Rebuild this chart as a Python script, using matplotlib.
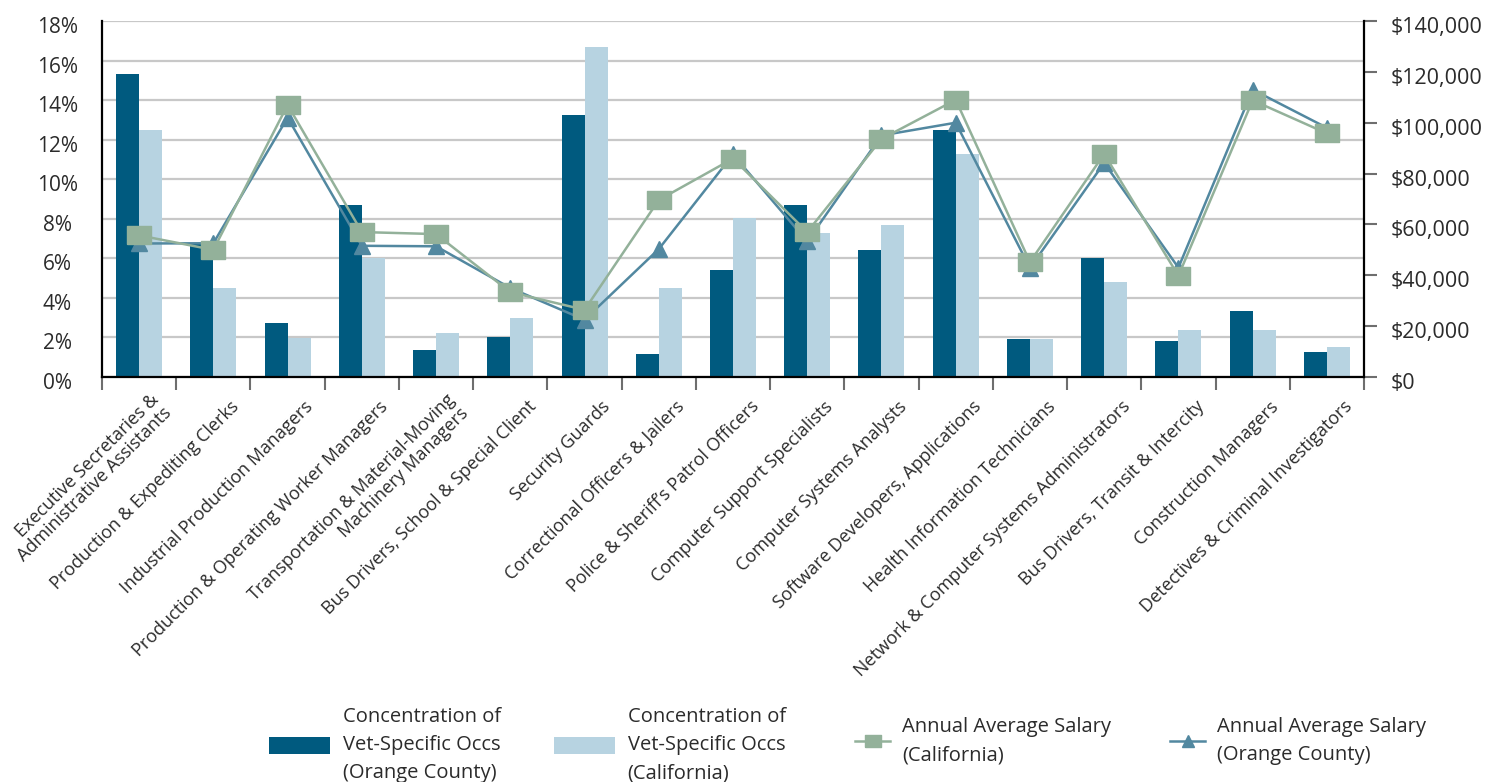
import matplotlib
matplotlib.use("Agg")
import matplotlib.pyplot as plt
import matplotlib.transforms as mtransforms
from matplotlib.patches import Patch
from matplotlib.lines import Line2D
from matplotlib.ticker import FuncFormatter, FixedLocator
import numpy as np

plt.rcParams['font.family'] = ['Open Sans', 'DejaVu Sans']

# occupations
categories = [
	"Executive Secretaries &\nAdministrative Assistants",
	"Production & Expediting Clerks",
	"Industrial Production Managers",
	"Production & Operating Worker Managers",
	"Transportation & Material-Moving\nMachinery Managers",
	"Bus Drivers, School & Special Client",
	"Security Guards",
	"Correctional Officers & Jailers",
	"Police & Sheriff\u2019s Patrol Officers",
	"Computer Support Specialists",
	"Computer Systems Analysts",
	"Software Developers, Applications",
	"Health Information Technicians",
	"Network & Computer Systems Administrators",
	"Bus Drivers, Transit & Intercity",
	"Construction Managers",
	"Detectives & Criminal Investigators",
]

# concentration of vet-specific occs, percent
oc_share = [15.3, 6.8, 2.75, 8.7, 1.35, 2.0, 13.25, 1.15, 5.4, 8.7, 6.4, 12.5, 1.9, 6.0, 1.8, 3.35, 1.25]
ca_share = [12.5, 4.5, 1.95, 6.0, 2.25, 3.0, 16.7, 4.5, 8.05, 7.3, 7.7, 11.3, 1.9, 4.8, 2.4, 2.4, 1.5]

# annual average salary, dollars
ca_salary = [55700, 50000, 107000, 57000, 56200, 33400, 26400, 69600, 85900, 57000,
	93600, 109000, 45200, 87700, 39800, 108800, 95800]
oc_salary = [52500, 52600, 102000, 51600, 51400, 35000, 22500, 50300, 87500, 53300,
	95000, 100000, 42900, 84200, 43000, 113000, 98000]

left_ticks = [0, 2, 4, 6, 8, 10, 12, 14, 16, 18]
right_ticks = [0, 20000, 40000, 60000, 80000, 100000, 120000, 140000]

dark_blue = "#005a7f"
light_blue = "#b7d3e1"
sage = "#93b19a"
steel = "#5288a0"
text_col = "#2b2b2b"
tick_col = "#6e6e6e"

fig = plt.figure(figsize=(14.86, 7.82), dpi=100)
ax = fig.add_axes([102 / 1486, 1 - 377 / 782, (1364 - 102) / 1486, (377 - 21) / 782])
ax2 = ax.twinx()

n = len(categories)
x = np.arange(n)
bw = 0.31

ax.bar(x - bw / 2, oc_share, bw, color=dark_blue, zorder=2)
ax.bar(x + bw / 2, ca_share, bw, color=light_blue, zorder=2)

ax.set_xlim(-0.5, n - 0.5)
ax.set_ylim(0, 18)
ax.set_yticks(left_ticks)
ax.yaxis.set_major_formatter(FuncFormatter(lambda v, p: "%d%%" % v))
ax.grid(axis="y", color="#c8c8c8", linewidth=1.6, zorder=0)
ax.set_axisbelow(True)

# category boundaries get the tick marks, labels sit at the centres
ax.xaxis.set_major_locator(FixedLocator(np.arange(-0.5, n, 1.0)))
ax.set_xticklabels([])
ax.tick_params(axis="x", which="major", direction="out", length=9.5, width=1.5, color=tick_col)
ax.tick_params(axis="y", length=0, pad=32, labelsize=15, labelcolor=text_col)
for lab in ax.get_yticklabels():
	lab.set_horizontalalignment("center")

lab_trans = mtransforms.offset_copy(ax.get_xaxis_transform(), fig=fig, x=23, y=-27, units="dots")
for i, name in enumerate(categories):
	ax.text(i, 0, name, transform=lab_trans, rotation=45, rotation_mode="anchor",
		ha="right", va="center", multialignment="right", linespacing=1.05,
		fontsize=13, color=text_col)

for side in ["top", "right"]:
	ax.spines[side].set_visible(False)
ax.spines["left"].set_linewidth(1.6)
ax.spines["bottom"].set_linewidth(1.6)
ax.spines["left"].set_color("black")
ax.spines["bottom"].set_color("black")

# salary lines on the right axis
ax2.plot(x, oc_salary, color=steel, linewidth=1.8, marker="^", markersize=11, zorder=3)
sq = [(-1.35, -1), (1.35, -1), (1.35, 1), (-1.35, 1), (-1.35, -1)]
ax2.plot(x, ca_salary, color=sage, linewidth=1.8, marker=sq, markersize=17, zorder=4)

ax2.set_ylim(0, 140000)
ax2.set_yticks(right_ticks)
ax2.yaxis.set_major_formatter(FuncFormatter(lambda v, p: "${:,.0f}".format(v)))
ax2.tick_params(axis="y", direction="out", length=9.5, width=1.5, color=tick_col,
	pad=10, labelsize=15.5, labelcolor=text_col)
for side in ["top", "left", "bottom"]:
	ax2.spines[side].set_visible(False)
ax2.spines["right"].set_linewidth(1.6)
ax2.spines["right"].set_color("black")

# nudge the tick labels down a little
down = mtransforms.ScaledTranslation(0, -4 / 100, fig.dpi_scale_trans)
for lab in ax.get_yticklabels() + ax2.get_yticklabels():
	lab.set_transform(lab.get_transform() + down)

# legend, one block per entry
leg_font = 14.5
entries = [
	(Patch(facecolor=dark_blue), "Concentration of\nVet-Specific Occs\n(Orange County)", 269, 745, 3.05),
	(Patch(facecolor=light_blue), "Concentration of\nVet-Specific Occs\n(California)", 554, 745, 3.05),
	(Line2D([0], [0], color=sage, linewidth=1.8, marker=sq, markersize=12), "Annual Average Salary\n(California)", 855, 741, 1.75),
	(Line2D([0], [0], color=steel, linewidth=1.8, marker="^", markersize=9), "Annual Average Salary\n(Orange County)", 1170, 741, 1.75),
]
for handle, label, xpix, ypix, hlen in entries:
	leg = fig.legend(handles=[handle], labels=[label], loc="center left",
		bbox_to_anchor=(xpix / 1486, 1 - ypix / 782), frameon=False,
		handlelength=hlen, handleheight=0.85, handletextpad=0.6,
		borderpad=0, borderaxespad=0, fontsize=leg_font)
	for t in leg.get_texts():
		t.set_color(text_col)
		t.set_linespacing(1.55)

fig.savefig("out.png", dpi=100)
